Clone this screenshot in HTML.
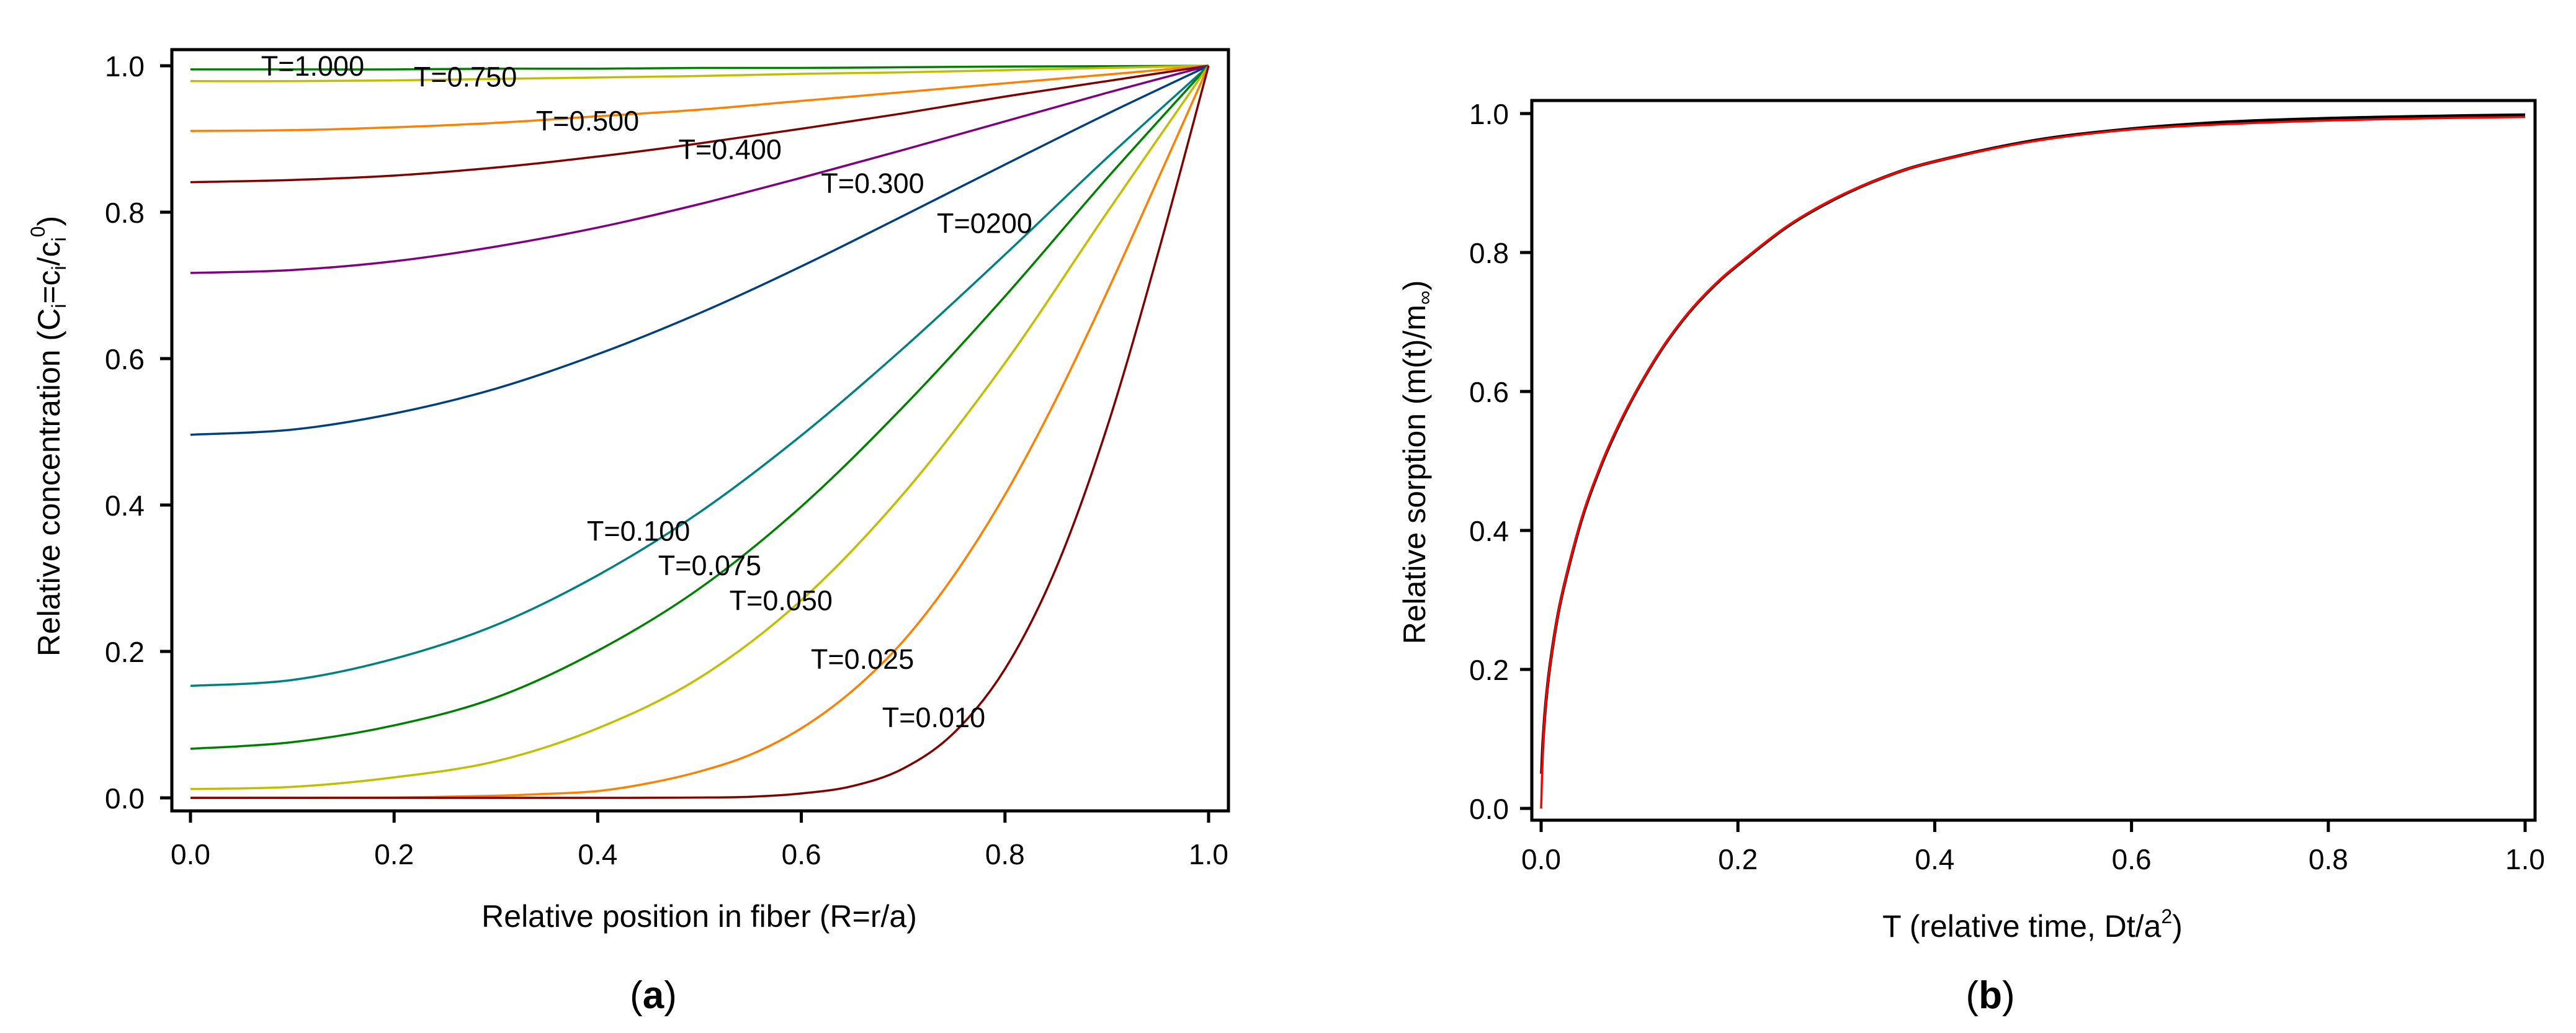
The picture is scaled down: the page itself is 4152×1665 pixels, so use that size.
<!DOCTYPE html>
<html><head><meta charset="utf-8"><style>
html,body{margin:0;padding:0;background:#fff;}
svg{display:block;}
text{font-family:"Liberation Sans",sans-serif;fill:#000;}
</style></head><body>
<svg id="fig" width="4152" height="1665" viewBox="0 0 4152 1665" xmlns="http://www.w3.org/2000/svg">
<g id="pa"></g>
<g id="pb"></g>
</svg>
<script>
// ---------- Panel (a) data ----------
const aTicks = [0, 0.2, 0.4, 0.6, 0.8, 1.0];
const aTickLabels = ["0.0","0.2","0.4","0.6","0.8","1.0"];
const rGrid = [0,0.1,0.2,0.3,0.4,0.5,0.6,0.7,0.8,0.9,1.0];
const rFine = [0,0.1,0.2,0.3,0.35,0.4,0.45,0.5,0.55,0.6,0.65,0.7,0.75,0.8,0.85,0.9,0.95,1.0];
const seriesNames = ["T=1.000","T=0.750","T=0.500","T=0.400","T=0.300","T=0200","T=0.100","T=0.075","T=0.050","T=0.025","T=0.010"];
const c1000 = [.995,.995,.995,.996,.996,.997,.997,.998,.999,.9993,1];
const c0750 = [.979,.979,.980,.982,.984,.986,.989,.991,.994,.997,1];
const c0500 = [.911,.912,.916,.922,.931,.940,.952,.964,.976,.988,1];
const c0400 = [.841,.844,.850,.861,.876,.894,.914,.935,.958,.979,1];
const c0300 = [.717,.721,.733,.753,.779,.811,.847,.885,.924,.963,1];
const c0200 = [.496,.503,.525,.559,.606,.662,.726,.795,.865,.934,1];
const c0100 = [.153,.161,.190,.236,.304,.390,.495,.614,.742,.874,1];
const c0075 = [.067,.076,.099,.137,.201,.286,.398,.534,.685,.846,1];
const c0050 = [.012,.015,.028,.050,.095,.164,.270,.415,.594,.799,1];
const c0025 = [0,0,.0005,.003,.0055,.0093,.020,.036,.059,.095,.146,.214,.304,.414,.544,.690,.844,1];
const c0010 = [0,0,0,0,0,0,.0001,.0004,.0015,.006,.016,.040,.089,.176,.313,.505,.742,1];
const seriesX = [rGrid,rGrid,rGrid,rGrid,rGrid,rGrid,rGrid,rGrid,rGrid,rFine,rFine];
const seriesY = [c1000,c0750,c0500,c0400,c0300,c0200,c0100,c0075,c0050,c0025,c0010];
const seriesColors = ["#008000","#bfbf00","#ff8000","#800000","#800080","#00407f","#008080","#008000","#bfbf00","#ff8000","#800000"];
const labelR = [0.12,0.27,0.39,0.53,0.67,0.78,0.44,0.51,0.58,0.66,0.73];
const labelC = [1.0,0.985,0.925,0.886,0.84,0.785,0.365,0.318,0.27,0.19,0.11];

// ---------- Panel (b) data ----------
const bTicks = [0, 0.2, 0.4, 0.6, 0.8, 1.0];
const bTickLabels = ["0.0","0.2","0.4","0.6","0.8","1.0"];
const tBlack = [0.0005,.002,.005,.01,.02,.04,.06,.08,.1,.125,.15,.175,.2,.25,.3,.35,.4,.5,.6,.7,.8,.9,1];
const mBlack = [.05,.099,.155,.216,.299,.410,.490,.554,.608,.666,.713,.751,.782,.837,.878,.909,.931,.961,.978,.988,.993,.996,.998];
const tRed = [0,.002,.005,.01,.02,.04,.06,.08,.1,.125,.15,.175,.2,.25,.3,.35,.4,.5,.6,.7,.8,.9,1];
const mRed = [0,.095,.155,.216,.300,.412,.492,.556,.609,.667,.714,.752,.783,.838,.879,.909,.931,.960,.977,.985,.990,.993,.995];

const NS = "http://www.w3.org/2000/svg";
function mk(parent, tag, attrs){
  const e = document.createElementNS(NS, tag);
  for (const k in attrs) e.setAttribute(k, attrs[k]);
  parent.appendChild(e);
  return e;
}
function smoothPath(px, py){
  let d = "M"+px[0].toFixed(1)+","+py[0].toFixed(1);
  for (let i=0;i<px.length-1;i++){
    const x0=px[Math.max(i-1,0)], y0=py[Math.max(i-1,0)];
    const x1=px[i], y1=py[i], x2=px[i+1], y2=py[i+1];
    const x3=px[Math.min(i+2,px.length-1)], y3=py[Math.min(i+2,px.length-1)];
    const c1x=x1+(x2-x0)/6, c1y=y1+(y2-y0)/6, c2x=x2-(x3-x1)/6, c2y=y2-(y3-y1)/6;
    d += " C"+c1x.toFixed(1)+","+c1y.toFixed(1)+" "+c2x.toFixed(1)+","+c2y.toFixed(1)+" "+x2.toFixed(1)+","+y2.toFixed(1);
  }
  return d;
}

// ---------- Panel (a) ----------
(function(){
  const g = document.getElementById("pa");
  const X = v => 307 + 1641*v;
  const Y = v => 1286 - 1180*v;
  const frame = mk(g,"rect",{x:277,y:80,width:1703,height:1227,fill:"none",stroke:"#000","stroke-width":5});
  
  
  aTicks.forEach((v,i)=>{
    const t = mk(g,"line",{x1:X(v),x2:X(v),y1:1307,y2:1326,stroke:"#000","stroke-width":5});
    
    
    const l = mk(g,"text",{x:X(v),y:1393,"font-size":46,"text-anchor":"middle"});
    
    
    l.textContent = aTickLabels[i];
    const ty = mk(g,"line",{x1:258,x2:277,y1:Y(v),y2:Y(v),stroke:"#000","stroke-width":5});
    
    
    const ly = mk(g,"text",{x:233,y:Y(v)+17,"font-size":46,"text-anchor":"end"});
    
    
    ly.textContent = aTickLabels[i];
  });
  seriesY.forEach((ys,i)=>{
    const xs = seriesX[i];
    const p = mk(g,"path",{d:smoothPath(xs.map(X), ys.map(Y)),fill:"none",stroke:seriesColors[i],"stroke-width":3.5});
    
    
  });
  seriesNames.forEach((n,i)=>{
    const t = mk(g,"text",{x:X(labelR[i]),y:Y(labelC[i])+16,"font-size":45,"text-anchor":"middle"});
    
    
    t.textContent = n;
  });
  const xt = mk(g,"text",{x:1127,y:1494,"font-size":50,"text-anchor":"middle"});
  
  
  xt.textContent = "Relative position in fiber (R=r/a)";
  const yt = mk(g,"text",{transform:"translate(96,703) rotate(-90)","font-size":50,"text-anchor":"middle"});
  
  
  yt.innerHTML = 'Relative concentration (C<tspan font-size="32" dy="10">i</tspan><tspan dy="-10">=c</tspan><tspan font-size="32" dy="10">i</tspan><tspan dy="-10">/c</tspan><tspan font-size="32" dy="10">i</tspan><tspan font-size="32" dy="-34">0</tspan><tspan dy="24">)</tspan>';
  const pl = mk(g,"text",{x:1053,y:1625,"font-size":62,"text-anchor":"middle","font-family":"Liberation Serif, serif"});
  
  
  pl.innerHTML = '(<tspan font-weight="bold">a</tspan>)';
})();

// ---------- Panel (b) ----------
(function(){
  const g = document.getElementById("pb");
  const X = v => 2484 + 1586*v;
  const Y = v => 1303 - 1120*v;
  const frame = mk(g,"rect",{x:2469,y:162,width:1617,height:1160,fill:"none",stroke:"#000","stroke-width":5});
  
  
  bTicks.forEach((v,i)=>{
    const t = mk(g,"line",{x1:X(v),x2:X(v),y1:1322,y2:1341,stroke:"#000","stroke-width":5});
    
    
    const l = mk(g,"text",{x:X(v),y:1401,"font-size":46,"text-anchor":"middle"});
    
    
    l.textContent = bTickLabels[i];
    const ty = mk(g,"line",{x1:2450,x2:2469,y1:Y(v),y2:Y(v),stroke:"#000","stroke-width":5});
    
    
    const ly = mk(g,"text",{x:2432,y:Y(v)+17,"font-size":46,"text-anchor":"end"});
    
    
    ly.textContent = bTickLabels[i];
  });
  const pk = mk(g,"path",{d:smoothPath(tBlack.map(X), mBlack.map(Y)),fill:"none",stroke:"#000","stroke-width":5});
  
  
  const pr = mk(g,"path",{d:smoothPath(tRed.map(X), mRed.map(Y)),fill:"none",stroke:"#ff0000","stroke-width":3.5});
  
  
  const xt = mk(g,"text",{x:3276,y:1510,"font-size":50,"text-anchor":"middle"});
  
  
  xt.innerHTML = 'T (relative time, Dt/a<tspan font-size="32" dy="-22">2</tspan><tspan dy="22">)</tspan>';
  const yt = mk(g,"text",{transform:"translate(2297,745) rotate(-90)","font-size":50,"text-anchor":"middle"});
  
  
  yt.innerHTML = 'Relative sorption (m(t)/m<tspan font-size="32" dy="10">∞</tspan><tspan dy="-10">)</tspan>';
  const pl = mk(g,"text",{x:3208,y:1625,"font-size":62,"text-anchor":"middle","font-family":"Liberation Serif, serif"});
  
  
  pl.innerHTML = '(<tspan font-weight="bold">b</tspan>)';
})();
</script>
</body></html>
